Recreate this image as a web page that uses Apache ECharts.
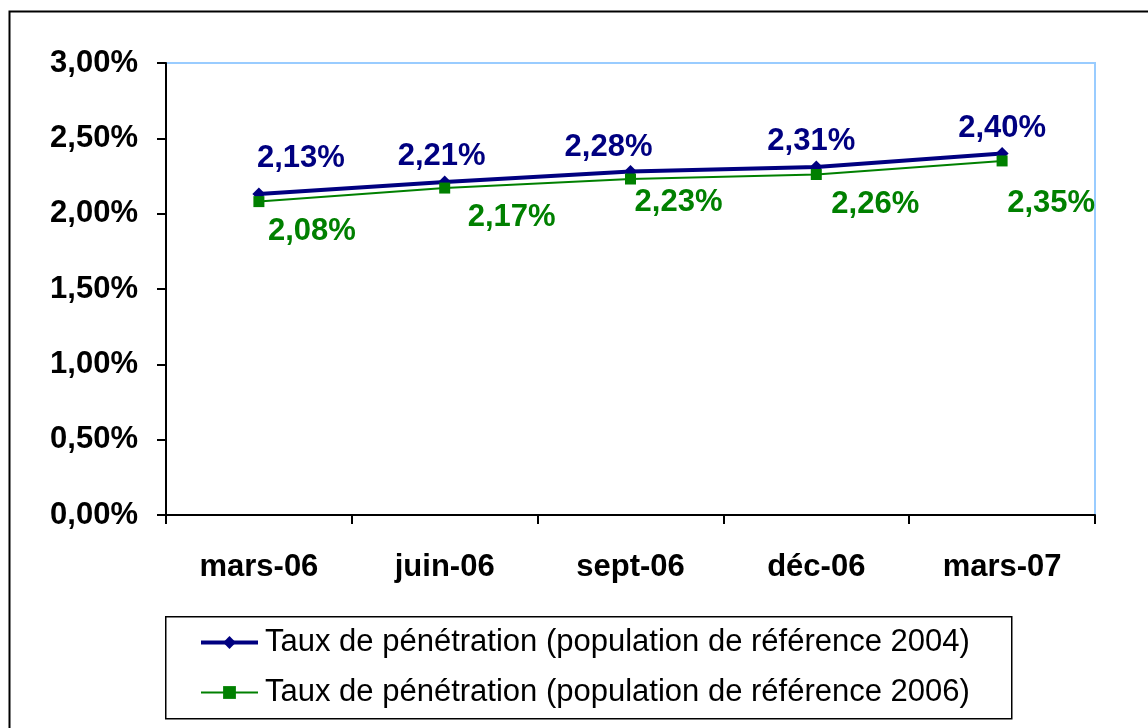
<!DOCTYPE html>
<html><head><meta charset="utf-8">
<script src="https://cdn.jsdelivr.net/npm/echarts@6/dist/echarts.min.js"></script>
<style>html,body{margin:0;padding:0;background:#fff}#c{width:1148px;height:728px}</style>
</head><body><div id="c"></div>
<script>
const categories = ['mars-06', 'juin-06', 'sept-06', 'déc-06', 'mars-07'];
const serie2004 = [2.13, 2.21, 2.28, 2.31, 2.40];
const serie2006 = [2.08, 2.17, 2.23, 2.26, 2.35];
const name2004 = 'Taux de pénétration (population de référence 2004)';
const name2006 = 'Taux de pénétration (population de référence 2006)';
const yTicks = { min: 0, max: 3, interval: 0.5 };

// label placement (layout only)
const offs2004 = [[42, -36], [-3, -26], [-22, -24], [-5, -26], [0, -25]];
const offs2006 = [[53, 30], [67, 29], [48, 23], [59, 30], [49, 43]];

const fmt = v => v.toFixed(2).replace('.', ',') + '%';
const FONT = '"Liberation Sans", Arial, sans-serif';

function mk(vals, offs) {
  return vals.map((v, i) => ({ value: v, label: { offset: offs[i] } }));
}

const chart = echarts.init(document.getElementById('c'), null, { renderer: 'canvas' });
chart.setOption({
  backgroundColor: '#fff',
  animation: false,
  graphic: [
    { type: 'rect', left: 7, top: 9, shape: { width: 1300, height: 900 },
      style: { fill: 'none', stroke: '#000', lineWidth: 2 }, z: 0 },
    { type: 'rect', left: 165, top: 616, shape: { width: 846, height: 102 },
      style: { fill: '#fff', stroke: '#000', lineWidth: 1.5 }, z: 1 }
  ],
  grid: { left: 166, top: 63, right: 53, bottom: 213, show: true,
    borderColor: '#99ccff', borderWidth: 2, backgroundColor: '#fff' },
  legend: {
    orient: 'vertical', left: 199, top: 627, itemGap: 19, padding: 0,
    itemWidth: 57, itemHeight: 16,
    textStyle: { fontFamily: FONT, fontSize: 31, color: '#000', padding: [0, 0, 0, 2] },
    data: [
      { name: name2004, lineStyle: { width: 4, color: '#000080' } },
      { name: name2006, lineStyle: { width: 2, color: '#008000' } }
    ], z: 3
  },
  xAxis: {
    type: 'category', data: categories, boundaryGap: true,
    axisLine: { lineStyle: { color: '#000', width: 2 } },
    axisTick: { show: true, interval: 0, length: 9, lineStyle: { color: '#000', width: 2 } },
    axisLabel: { margin: 37, fontFamily: FONT, fontSize: 31, fontWeight: 'bold', color: '#000' }
  },
  yAxis: {
    type: 'value', min: yTicks.min, max: yTicks.max, interval: yTicks.interval,
    splitLine: { show: false },
    axisLine: { show: true, lineStyle: { color: '#000', width: 2 } },
    axisTick: { show: true, length: 9, lineStyle: { color: '#000', width: 2 } },
    axisLabel: { margin: 28, fontFamily: FONT, fontSize: 31, fontWeight: 'bold', color: '#000', formatter: fmt,
      padding: [4, 0, 0, 0] }
  },
  series: [
    { name: name2004, type: 'line', data: mk(serie2004, offs2004),
      symbol: 'diamond', symbolSize: 13, itemStyle: { color: '#000080' },
      lineStyle: { color: '#000080', width: 4 }, z: 3,
      label: { show: true, position: 'inside', formatter: p => fmt(p.value),
        fontFamily: FONT, fontSize: 31, fontWeight: 'bold', color: '#000080' } },
    { name: name2006, type: 'line', data: mk(serie2006, offs2006),
      symbol: 'rect', symbolSize: 11, itemStyle: { color: '#008000' },
      lineStyle: { color: '#008000', width: 2 }, z: 4,
      label: { show: true, position: 'inside', formatter: p => fmt(p.value),
        fontFamily: FONT, fontSize: 31, fontWeight: 'bold', color: '#008000' } }
  ]
});
</script></body></html>
